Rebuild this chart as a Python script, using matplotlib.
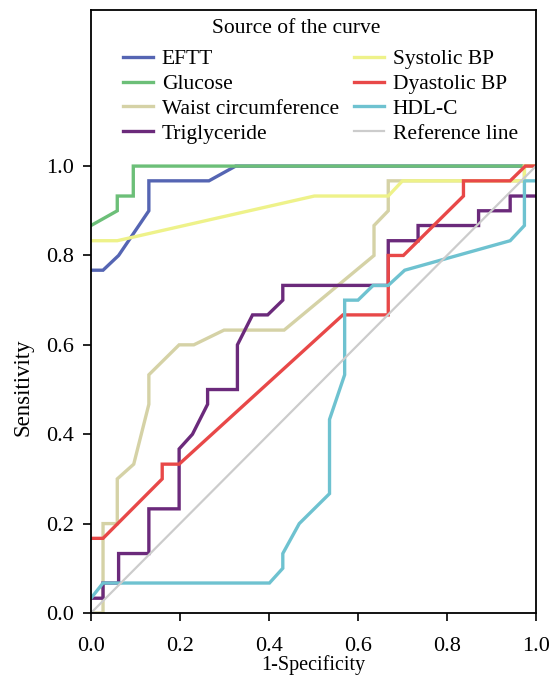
import matplotlib
matplotlib.use('Agg')
import matplotlib.pyplot as plt

# ROC curves (x = 1-Specificity, y = Sensitivity)
eftt_x = [0, 0.027, 0.062, 0.130, 0.130, 0.265, 0.325, 1.0]
eftt_y = [0.767, 0.767, 0.800, 0.900, 0.967, 0.967, 1.0, 1.0]

glucose_x = [0, 0.059, 0.059, 0.095, 0.095, 1.0]
glucose_y = [0.867, 0.900, 0.933, 0.933, 1.0, 1.0]

waist_x = [0, 0.027, 0.027, 0.059, 0.059, 0.096, 0.130, 0.130, 0.198, 0.231,
           0.299, 0.434, 0.636, 0.636, 0.668, 0.668, 0.974, 0.974, 1.0]
waist_y = [0, 0, 0.200, 0.200, 0.300, 0.333, 0.467, 0.533, 0.600, 0.600,
           0.633, 0.633, 0.800, 0.867, 0.900, 0.967, 0.967, 1.0, 1.0]

trig_x = [0, 0.027, 0.027, 0.062, 0.062, 0.130, 0.130, 0.198, 0.198, 0.228,
          0.262, 0.262, 0.329, 0.329, 0.363, 0.397, 0.431, 0.431, 0.668, 0.668,
          0.735, 0.735, 0.871, 0.871, 0.942, 0.942, 1.0]
trig_y = [0.033, 0.033, 0.067, 0.067, 0.133, 0.133, 0.233, 0.233, 0.367, 0.400,
          0.467, 0.500, 0.500, 0.600, 0.667, 0.667, 0.700, 0.733, 0.733, 0.833,
          0.833, 0.867, 0.867, 0.900, 0.900, 0.933, 0.933]

sbp_x = [0, 0.059, 0.502, 0.668, 0.700, 0.974, 0.974, 1.0]
sbp_y = [0.833, 0.833, 0.933, 0.933, 0.967, 0.967, 1.0, 1.0]

dbp_x = [0, 0.027, 0.160, 0.160, 0.198, 0.566, 0.668, 0.668, 0.702, 0.837,
         0.837, 0.942, 0.976, 1.0]
dbp_y = [0.167, 0.167, 0.300, 0.333, 0.333, 0.667, 0.667, 0.800, 0.800, 0.933,
         0.967, 0.967, 1.0, 1.0]

hdl_x = [0, 0.027, 0.401, 0.431, 0.431, 0.468, 0.536, 0.536, 0.570, 0.570,
         0.600, 0.634, 0.668, 0.705, 0.942, 0.974, 0.974, 1.0]
hdl_y = [0.033, 0.067, 0.067, 0.100, 0.133, 0.200, 0.267, 0.433, 0.533, 0.700,
         0.700, 0.733, 0.733, 0.767, 0.833, 0.867, 0.967, 0.967]

ref_x = [0, 1]
ref_y = [0, 1]

labels = ['EFTT', 'Glucose', 'Waist circumference', 'Triglyceride',
          'Systolic BP', 'Dyastolic BP', 'HDL-C', 'Reference line']
colors = ['#5565b3', '#6cbf78', '#d5d2a6', '#6b2a7b',
          '#eef28a', '#e84848', '#6ec2d0', '#cccccc']
series = [(eftt_x, eftt_y), (glucose_x, glucose_y), (waist_x, waist_y),
          (trig_x, trig_y), (sbp_x, sbp_y), (dbp_x, dbp_y),
          (hdl_x, hdl_y), (ref_x, ref_y)]

ticks = [0, 0.2, 0.4, 0.6, 0.8, 1.0]
tick_labels = ['0.0', '0.2', '0.4', '0.6', '0.8', '1.0']

plt.rcParams['font.family'] = ['Liberation Serif', 'DejaVu Serif']

fig = plt.figure(figsize=(5.56, 6.75), dpi=100)
ax = fig.add_axes([0.1637, 0.0919, 0.8003, 0.8931])

for (xs, ys), lab, col in zip(series, labels, colors):
    lw = 1.6 if lab == 'Reference line' else 2.4
    ax.plot(xs, ys, color=col, lw=lw, label=lab, solid_joinstyle='miter')

ax.set_xlim(0, 1.0)
ax.set_ylim(0, 1.349)
ax.set_xticks(ticks)
ax.set_yticks(ticks)
ax.set_xticklabels(tick_labels)
ax.set_yticklabels(tick_labels)
ax.tick_params(direction='out', length=5.5, width=1.2, labelsize=16, colors='black')
ax.tick_params(axis='x', pad=12)
ax.tick_params(axis='y', pad=7)
for sp in ax.spines.values():
    sp.set_linewidth(1.3)

ax.set_xlabel('1-Specificity', fontsize=14.5, labelpad=-1)
ax.set_ylabel('Sensitivity', fontsize=16.5)
# label centred on the 0-1 range, as in the reference
ax.yaxis.set_label_coords(-0.130, 0.375)

# legend title drawn separately so it sits where the reference has it
ax.text(0.4607, 0.969, 'Source of the curve', transform=ax.transAxes,
        ha='center', va='center', fontsize=15.5)
ax.legend(loc='upper left', bbox_to_anchor=(0.0719, 0.935), ncol=2,
          frameon=False, fontsize=15.5, handlelength=1.4, handletextpad=0.4,
          columnspacing=0.7, labelspacing=0.22, borderpad=0, borderaxespad=0)

fig.savefig('out.png', dpi=100)
